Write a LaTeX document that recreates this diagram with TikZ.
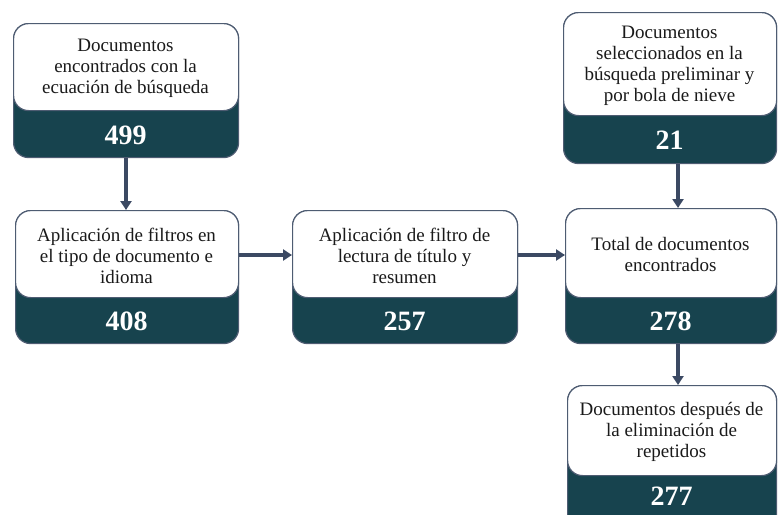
\documentclass[tikz,border=0pt]{standalone}
\usepackage{fontspec}
\setmainfont{Liberation Serif}
\usetikzlibrary{arrows.meta}
\definecolor{darkteal}{HTML}{17434E}
\definecolor{edgegray}{HTML}{4E5C72}
\definecolor{arrowcol}{HTML}{3B4963}
\definecolor{txt}{HTML}{1A1A1A}
\tikzset{
  darkpart/.style={draw=edgegray, line width=1.2pt, fill=darkteal, rounded corners=15pt, inner sep=0pt, anchor=north west},
  whitepart/.style={draw=edgegray, line width=1.2pt, fill=white, rounded corners=15pt, inner sep=0pt, anchor=north west},
  labeltext/.style={align=center, text=txt, font=\fontsize{19}{21}\selectfont, inner sep=0pt},
  numtext/.style={text=white, font=\fontsize{28}{30}\selectfont\bfseries, inner sep=0pt},
  arr/.style={draw=arrowcol, line width=3.6pt, -{Triangle[width=11pt,length=9pt]}}
}
% #1 name, #2 x1, #3 x2, #4 top, #5 white bottom, #6 bottom, #7 text, #8 number, #9 number y
\newcommand\flowbox[9]{%
  \node[darkpart, minimum width=#3pt-#2pt, minimum height=#6pt-#4pt] (d#1) at (#2,#4) {};
  \node[numtext] (n#1) at ({(#2+#3)/2},#9) {#8};
  \node[whitepart, minimum width=#3pt-#2pt, minimum height=#5pt-#4pt] (w#1) at (#2,#4) {};
  \node[labeltext] (t#1) at ({(#2+#3)/2},{(#4+#5)/2+2}) {#7};
}
\begin{document}
\begin{tikzpicture}[x=1pt,y=-1pt]
\useasboundingbox (0,0) rectangle (778,514);
\clip (0,0) rectangle (778,514);
\flowbox{1}{13}{238}{23}{110}{157}{Documentos\\encontrados con la\\ecuación de búsqueda}{499}{135}
\flowbox{2}{15}{238}{210}{297}{343}{Aplicación de filtros en\\el tipo de documento e\\idioma}{408}{321}
\flowbox{3}{292}{517}{210}{297}{343}{Aplicación de filtro de\\lectura de título y\\resumen}{257}{321}
\flowbox{4}{563}{776}{12}{115}{163}{Documentos\\seleccionados en la\\búsqueda preliminar y\\por bola de nieve}{21}{140}
\flowbox{5}{565}{776}{208}{297}{343}{Total de documentos\\encontrados}{278}{321}
\flowbox{6}{567}{776}{385}{475}{530}{Documentos después de\\la eliminación de\\repetidos}{277}{496}
\coordinate (ax1) at (126,0);
\coordinate (ax2) at (678,0);
\coordinate (ay) at (0,255);
\draw[arr] (d1.south -| ax1) -- (w2.north -| ax1);
\draw[arr] (w2.east |- ay) -- (w3.west |- ay);
\draw[arr] (w3.east |- ay) -- (w5.west |- ay);
\draw[arr] (d4.south -| ax2) -- (w5.north -| ax2);
\draw[arr] (d5.south -| ax2) -- (w6.north -| ax2);
\end{tikzpicture}
\end{document}
